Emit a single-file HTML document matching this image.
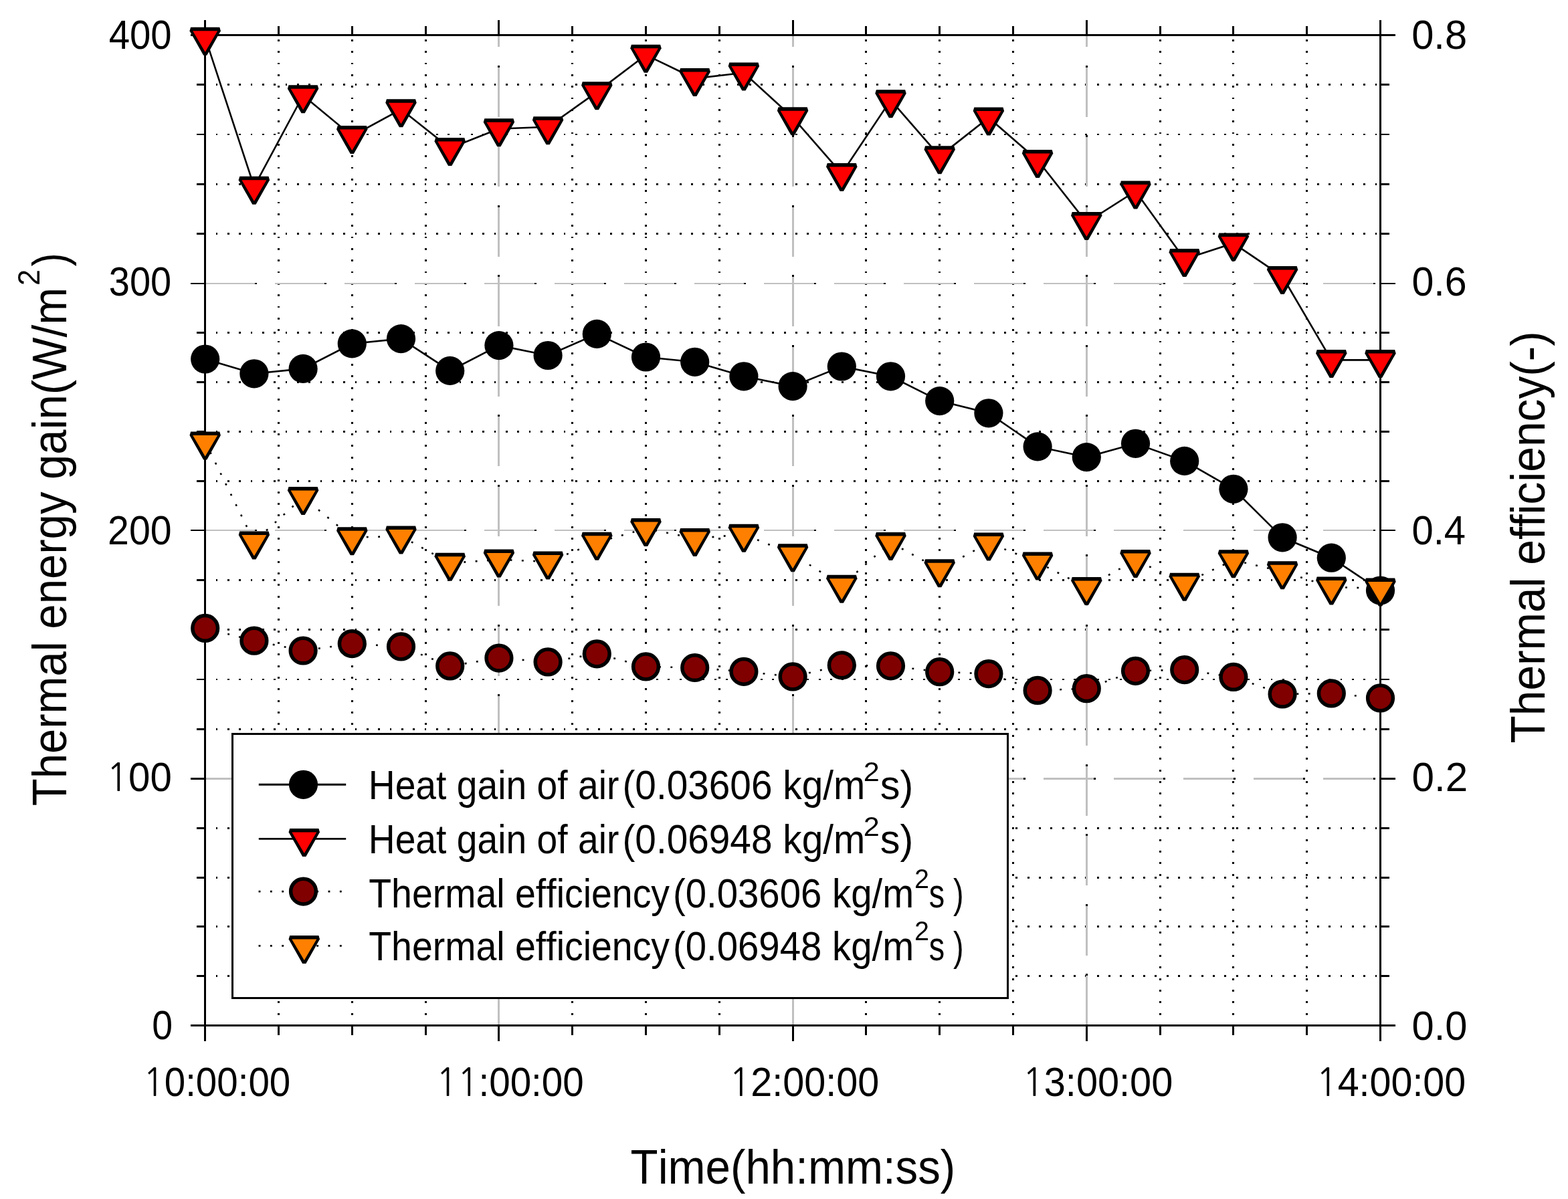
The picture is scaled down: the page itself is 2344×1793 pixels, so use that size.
<!DOCTYPE html>
<html><head><meta charset="utf-8"><title>Thermal energy gain and efficiency</title>
<style>html,body{margin:0;padding:0;background:#fff;overflow:hidden;width:2344px;height:1793px;}svg{display:block;}</style>
</head><body>
<svg width="2344" height="1793" viewBox="0 0 2344 1793">
<rect width="2344" height="1793" fill="#fff"/>
<g stroke="#000" stroke-width="2.86" stroke-dasharray="2.86 14.47" shape-rendering="crispEdges"><line x1="322.60" y1="1459.64" x2="2062.50" y2="1459.64"/><line x1="322.60" y1="1385.88" x2="2062.50" y2="1385.88"/><line x1="322.60" y1="1312.12" x2="2062.50" y2="1312.12"/><line x1="322.60" y1="1238.36" x2="2062.50" y2="1238.36"/><line x1="322.60" y1="1090.28" x2="2062.50" y2="1090.28"/><line x1="322.60" y1="1015.96" x2="2062.50" y2="1015.96"/><line x1="322.60" y1="941.64" x2="2062.50" y2="941.64"/><line x1="322.60" y1="867.32" x2="2062.50" y2="867.32"/><line x1="322.60" y1="719.20" x2="2062.50" y2="719.20"/><line x1="322.60" y1="645.40" x2="2062.50" y2="645.40"/><line x1="322.60" y1="571.60" x2="2062.50" y2="571.60"/><line x1="322.60" y1="497.80" x2="2062.50" y2="497.80"/><line x1="322.60" y1="349.68" x2="2062.50" y2="349.68"/><line x1="322.60" y1="275.36" x2="2062.50" y2="275.36"/><line x1="322.60" y1="201.04" x2="2062.50" y2="201.04"/><line x1="322.60" y1="126.72" x2="2062.50" y2="126.72"/><line x1="416.50" y1="1517.50" x2="416.50" y2="53.40"/><line x1="526.30" y1="1517.50" x2="526.30" y2="53.40"/><line x1="636.10" y1="1517.50" x2="636.10" y2="53.40"/><line x1="855.70" y1="1517.50" x2="855.70" y2="53.40"/><line x1="965.50" y1="1517.50" x2="965.50" y2="53.40"/><line x1="1075.30" y1="1517.50" x2="1075.30" y2="53.40"/><line x1="1294.90" y1="1517.50" x2="1294.90" y2="53.40"/><line x1="1404.70" y1="1517.50" x2="1404.70" y2="53.40"/><line x1="1514.50" y1="1517.50" x2="1514.50" y2="53.40"/><line x1="1734.10" y1="1517.50" x2="1734.10" y2="53.40"/><line x1="1843.90" y1="1517.50" x2="1843.90" y2="53.40"/><line x1="1953.70" y1="1517.50" x2="1953.70" y2="53.40"/></g>
<g stroke="#c0c0c0" stroke-width="2.86" stroke-dasharray="77.2 27.30" shape-rendering="crispEdges"><line x1="306.40" y1="1164.60" x2="2062.10" y2="1164.60"/><line x1="306.40" y1="793.00" x2="2062.10" y2="793.00"/><line x1="306.40" y1="424.00" x2="2062.10" y2="424.00"/><line x1="745.90" y1="1533.40" x2="745.90" y2="53.80"/><line x1="1185.10" y1="1533.40" x2="1185.10" y2="53.80"/><line x1="1624.30" y1="1533.40" x2="1624.30" y2="53.80"/></g>
<g stroke="#000" stroke-width="2.86" stroke-dasharray="2.86 101.64" shape-rendering="crispEdges"><line x1="380.74" y1="1164.60" x2="2062.10" y2="1164.60"/><line x1="380.74" y1="793.00" x2="2062.10" y2="793.00"/><line x1="380.74" y1="424.00" x2="2062.10" y2="424.00"/><line x1="745.90" y1="1459.06" x2="745.90" y2="53.80"/><line x1="1185.10" y1="1459.06" x2="1185.10" y2="53.80"/><line x1="1624.30" y1="1459.06" x2="1624.30" y2="53.80"/></g>
<g stroke="#000" stroke-width="2.86" shape-rendering="crispEdges"><line x1="306.7" y1="30.4" x2="306.7" y2="1557.4"/><line x1="2063.5" y1="30.4" x2="2063.5" y2="1557.4"/><line x1="284.7" y1="52.4" x2="2085.5" y2="52.4"/><line x1="284.7" y1="1533.4" x2="2085.5" y2="1533.4"/><line x1="293.7" y1="1459.64" x2="306.7" y2="1459.64"/><line x1="2063.5" y1="1459.64" x2="2076.5" y2="1459.64"/><line x1="293.7" y1="1385.88" x2="306.7" y2="1385.88"/><line x1="2063.5" y1="1385.88" x2="2076.5" y2="1385.88"/><line x1="293.7" y1="1312.12" x2="306.7" y2="1312.12"/><line x1="2063.5" y1="1312.12" x2="2076.5" y2="1312.12"/><line x1="293.7" y1="1238.36" x2="306.7" y2="1238.36"/><line x1="2063.5" y1="1238.36" x2="2076.5" y2="1238.36"/><line x1="284.7" y1="1164.60" x2="306.7" y2="1164.60"/><line x1="2063.5" y1="1164.60" x2="2085.5" y2="1164.60"/><line x1="293.7" y1="1090.28" x2="306.7" y2="1090.28"/><line x1="2063.5" y1="1090.28" x2="2076.5" y2="1090.28"/><line x1="293.7" y1="1015.96" x2="306.7" y2="1015.96"/><line x1="2063.5" y1="1015.96" x2="2076.5" y2="1015.96"/><line x1="293.7" y1="941.64" x2="306.7" y2="941.64"/><line x1="2063.5" y1="941.64" x2="2076.5" y2="941.64"/><line x1="293.7" y1="867.32" x2="306.7" y2="867.32"/><line x1="2063.5" y1="867.32" x2="2076.5" y2="867.32"/><line x1="284.7" y1="793.00" x2="306.7" y2="793.00"/><line x1="2063.5" y1="793.00" x2="2085.5" y2="793.00"/><line x1="293.7" y1="719.20" x2="306.7" y2="719.20"/><line x1="2063.5" y1="719.20" x2="2076.5" y2="719.20"/><line x1="293.7" y1="645.40" x2="306.7" y2="645.40"/><line x1="2063.5" y1="645.40" x2="2076.5" y2="645.40"/><line x1="293.7" y1="571.60" x2="306.7" y2="571.60"/><line x1="2063.5" y1="571.60" x2="2076.5" y2="571.60"/><line x1="293.7" y1="497.80" x2="306.7" y2="497.80"/><line x1="2063.5" y1="497.80" x2="2076.5" y2="497.80"/><line x1="284.7" y1="424.00" x2="306.7" y2="424.00"/><line x1="2063.5" y1="424.00" x2="2085.5" y2="424.00"/><line x1="293.7" y1="349.68" x2="306.7" y2="349.68"/><line x1="2063.5" y1="349.68" x2="2076.5" y2="349.68"/><line x1="293.7" y1="275.36" x2="306.7" y2="275.36"/><line x1="2063.5" y1="275.36" x2="2076.5" y2="275.36"/><line x1="293.7" y1="201.04" x2="306.7" y2="201.04"/><line x1="2063.5" y1="201.04" x2="2076.5" y2="201.04"/><line x1="293.7" y1="126.72" x2="306.7" y2="126.72"/><line x1="2063.5" y1="126.72" x2="2076.5" y2="126.72"/><line x1="416.50" y1="1533.4" x2="416.50" y2="1548.4"/><line x1="416.50" y1="39.4" x2="416.50" y2="52.4"/><line x1="526.30" y1="1533.4" x2="526.30" y2="1548.4"/><line x1="526.30" y1="39.4" x2="526.30" y2="52.4"/><line x1="636.10" y1="1533.4" x2="636.10" y2="1548.4"/><line x1="636.10" y1="39.4" x2="636.10" y2="52.4"/><line x1="745.90" y1="1533.4" x2="745.90" y2="1557.4"/><line x1="745.90" y1="30.4" x2="745.90" y2="52.4"/><line x1="855.70" y1="1533.4" x2="855.70" y2="1548.4"/><line x1="855.70" y1="39.4" x2="855.70" y2="52.4"/><line x1="965.50" y1="1533.4" x2="965.50" y2="1548.4"/><line x1="965.50" y1="39.4" x2="965.50" y2="52.4"/><line x1="1075.30" y1="1533.4" x2="1075.30" y2="1548.4"/><line x1="1075.30" y1="39.4" x2="1075.30" y2="52.4"/><line x1="1185.10" y1="1533.4" x2="1185.10" y2="1557.4"/><line x1="1185.10" y1="30.4" x2="1185.10" y2="52.4"/><line x1="1294.90" y1="1533.4" x2="1294.90" y2="1548.4"/><line x1="1294.90" y1="39.4" x2="1294.90" y2="52.4"/><line x1="1404.70" y1="1533.4" x2="1404.70" y2="1548.4"/><line x1="1404.70" y1="39.4" x2="1404.70" y2="52.4"/><line x1="1514.50" y1="1533.4" x2="1514.50" y2="1548.4"/><line x1="1514.50" y1="39.4" x2="1514.50" y2="52.4"/><line x1="1624.30" y1="1533.4" x2="1624.30" y2="1557.4"/><line x1="1624.30" y1="30.4" x2="1624.30" y2="52.4"/><line x1="1734.10" y1="1533.4" x2="1734.10" y2="1548.4"/><line x1="1734.10" y1="39.4" x2="1734.10" y2="52.4"/><line x1="1843.90" y1="1533.4" x2="1843.90" y2="1548.4"/><line x1="1843.90" y1="39.4" x2="1843.90" y2="52.4"/><line x1="1953.70" y1="1533.4" x2="1953.70" y2="1548.4"/><line x1="1953.70" y1="39.4" x2="1953.70" y2="52.4"/></g>
<polyline points="306.70,537.00 379.90,558.80 453.10,551.40 526.30,513.90 599.50,506.60 672.70,554.40 745.90,516.60 819.10,531.50 892.30,499.40 965.50,534.00 1038.70,541.30 1111.90,562.80 1185.10,577.60 1258.30,548.00 1331.50,562.80 1404.70,599.60 1477.90,617.80 1551.10,667.90 1624.30,683.60 1697.50,663.30 1770.70,689.40 1843.90,731.30 1917.10,803.80 1990.30,834.20 2063.50,883.00" fill="none" stroke="#000" stroke-width="2.6"/>
<circle cx="306.70" cy="537.00" r="21.6" fill="#000"/><circle cx="379.90" cy="558.80" r="21.6" fill="#000"/><circle cx="453.10" cy="551.40" r="21.6" fill="#000"/><circle cx="526.30" cy="513.90" r="21.6" fill="#000"/><circle cx="599.50" cy="506.60" r="21.6" fill="#000"/><circle cx="672.70" cy="554.40" r="21.6" fill="#000"/><circle cx="745.90" cy="516.60" r="21.6" fill="#000"/><circle cx="819.10" cy="531.50" r="21.6" fill="#000"/><circle cx="892.30" cy="499.40" r="21.6" fill="#000"/><circle cx="965.50" cy="534.00" r="21.6" fill="#000"/><circle cx="1038.70" cy="541.30" r="21.6" fill="#000"/><circle cx="1111.90" cy="562.80" r="21.6" fill="#000"/><circle cx="1185.10" cy="577.60" r="21.6" fill="#000"/><circle cx="1258.30" cy="548.00" r="21.6" fill="#000"/><circle cx="1331.50" cy="562.80" r="21.6" fill="#000"/><circle cx="1404.70" cy="599.60" r="21.6" fill="#000"/><circle cx="1477.90" cy="617.80" r="21.6" fill="#000"/><circle cx="1551.10" cy="667.90" r="21.6" fill="#000"/><circle cx="1624.30" cy="683.60" r="21.6" fill="#000"/><circle cx="1697.50" cy="663.30" r="21.6" fill="#000"/><circle cx="1770.70" cy="689.40" r="21.6" fill="#000"/><circle cx="1843.90" cy="731.30" r="21.6" fill="#000"/><circle cx="1917.10" cy="803.80" r="21.6" fill="#000"/><circle cx="1990.30" cy="834.20" r="21.6" fill="#000"/><circle cx="2063.50" cy="883.00" r="21.6" fill="#000"/>
<polyline points="306.70,56.10 379.90,279.10 453.10,142.70 526.30,203.40 599.50,163.60 672.70,221.40 745.90,192.60 819.10,189.70 892.30,137.60 965.50,82.20 1038.70,117.40 1111.90,108.80 1185.10,175.70 1258.30,259.50 1331.50,149.60 1404.70,233.60 1477.90,175.90 1551.10,239.50 1624.30,332.50 1697.50,286.00 1770.70,387.40 1843.90,363.80 1917.10,413.50 1990.30,538.40 2063.50,538.40" fill="none" stroke="#000" stroke-width="2.6"/>
<polygon points="285.10,40.70 328.30,40.70 329.90,46.20 309.30,82.70 304.10,82.70 283.50,46.20" fill="#000"/><polygon points="288.20,46.20 325.20,46.20 306.70,77.70" fill="#ff0000"/><polygon points="358.30,263.70 401.50,263.70 403.10,269.20 382.50,305.70 377.30,305.70 356.70,269.20" fill="#000"/><polygon points="361.40,269.20 398.40,269.20 379.90,300.70" fill="#ff0000"/><polygon points="431.50,127.30 474.70,127.30 476.30,132.80 455.70,169.30 450.50,169.30 429.90,132.80" fill="#000"/><polygon points="434.60,132.80 471.60,132.80 453.10,164.30" fill="#ff0000"/><polygon points="504.70,188.00 547.90,188.00 549.50,193.50 528.90,230.00 523.70,230.00 503.10,193.50" fill="#000"/><polygon points="507.80,193.50 544.80,193.50 526.30,225.00" fill="#ff0000"/><polygon points="577.90,148.20 621.10,148.20 622.70,153.70 602.10,190.20 596.90,190.20 576.30,153.70" fill="#000"/><polygon points="581.00,153.70 618.00,153.70 599.50,185.20" fill="#ff0000"/><polygon points="651.10,206.00 694.30,206.00 695.90,211.50 675.30,248.00 670.10,248.00 649.50,211.50" fill="#000"/><polygon points="654.20,211.50 691.20,211.50 672.70,243.00" fill="#ff0000"/><polygon points="724.30,177.20 767.50,177.20 769.10,182.70 748.50,219.20 743.30,219.20 722.70,182.70" fill="#000"/><polygon points="727.40,182.70 764.40,182.70 745.90,214.20" fill="#ff0000"/><polygon points="797.50,174.30 840.70,174.30 842.30,179.80 821.70,216.30 816.50,216.30 795.90,179.80" fill="#000"/><polygon points="800.60,179.80 837.60,179.80 819.10,211.30" fill="#ff0000"/><polygon points="870.70,122.20 913.90,122.20 915.50,127.70 894.90,164.20 889.70,164.20 869.10,127.70" fill="#000"/><polygon points="873.80,127.70 910.80,127.70 892.30,159.20" fill="#ff0000"/><polygon points="943.90,66.80 987.10,66.80 988.70,72.30 968.10,108.80 962.90,108.80 942.30,72.30" fill="#000"/><polygon points="947.00,72.30 984.00,72.30 965.50,103.80" fill="#ff0000"/><polygon points="1017.10,102.00 1060.30,102.00 1061.90,107.50 1041.30,144.00 1036.10,144.00 1015.50,107.50" fill="#000"/><polygon points="1020.20,107.50 1057.20,107.50 1038.70,139.00" fill="#ff0000"/><polygon points="1090.30,93.40 1133.50,93.40 1135.10,98.90 1114.50,135.40 1109.30,135.40 1088.70,98.90" fill="#000"/><polygon points="1093.40,98.90 1130.40,98.90 1111.90,130.40" fill="#ff0000"/><polygon points="1163.50,160.30 1206.70,160.30 1208.30,165.80 1187.70,202.30 1182.50,202.30 1161.90,165.80" fill="#000"/><polygon points="1166.60,165.80 1203.60,165.80 1185.10,197.30" fill="#ff0000"/><polygon points="1236.70,244.10 1279.90,244.10 1281.50,249.60 1260.90,286.10 1255.70,286.10 1235.10,249.60" fill="#000"/><polygon points="1239.80,249.60 1276.80,249.60 1258.30,281.10" fill="#ff0000"/><polygon points="1309.90,134.20 1353.10,134.20 1354.70,139.70 1334.10,176.20 1328.90,176.20 1308.30,139.70" fill="#000"/><polygon points="1313.00,139.70 1350.00,139.70 1331.50,171.20" fill="#ff0000"/><polygon points="1383.10,218.20 1426.30,218.20 1427.90,223.70 1407.30,260.20 1402.10,260.20 1381.50,223.70" fill="#000"/><polygon points="1386.20,223.70 1423.20,223.70 1404.70,255.20" fill="#ff0000"/><polygon points="1456.30,160.50 1499.50,160.50 1501.10,166.00 1480.50,202.50 1475.30,202.50 1454.70,166.00" fill="#000"/><polygon points="1459.40,166.00 1496.40,166.00 1477.90,197.50" fill="#ff0000"/><polygon points="1529.50,224.10 1572.70,224.10 1574.30,229.60 1553.70,266.10 1548.50,266.10 1527.90,229.60" fill="#000"/><polygon points="1532.60,229.60 1569.60,229.60 1551.10,261.10" fill="#ff0000"/><polygon points="1602.70,317.10 1645.90,317.10 1647.50,322.60 1626.90,359.10 1621.70,359.10 1601.10,322.60" fill="#000"/><polygon points="1605.80,322.60 1642.80,322.60 1624.30,354.10" fill="#ff0000"/><polygon points="1675.90,270.60 1719.10,270.60 1720.70,276.10 1700.10,312.60 1694.90,312.60 1674.30,276.10" fill="#000"/><polygon points="1679.00,276.10 1716.00,276.10 1697.50,307.60" fill="#ff0000"/><polygon points="1749.10,372.00 1792.30,372.00 1793.90,377.50 1773.30,414.00 1768.10,414.00 1747.50,377.50" fill="#000"/><polygon points="1752.20,377.50 1789.20,377.50 1770.70,409.00" fill="#ff0000"/><polygon points="1822.30,348.40 1865.50,348.40 1867.10,353.90 1846.50,390.40 1841.30,390.40 1820.70,353.90" fill="#000"/><polygon points="1825.40,353.90 1862.40,353.90 1843.90,385.40" fill="#ff0000"/><polygon points="1895.50,398.10 1938.70,398.10 1940.30,403.60 1919.70,440.10 1914.50,440.10 1893.90,403.60" fill="#000"/><polygon points="1898.60,403.60 1935.60,403.60 1917.10,435.10" fill="#ff0000"/><polygon points="1968.70,523.00 2011.90,523.00 2013.50,528.50 1992.90,565.00 1987.70,565.00 1967.10,528.50" fill="#000"/><polygon points="1971.80,528.50 2008.80,528.50 1990.30,560.00" fill="#ff0000"/><polygon points="2041.90,523.00 2085.10,523.00 2086.70,528.50 2066.10,565.00 2060.90,565.00 2040.30,528.50" fill="#000"/><polygon points="2045.00,528.50 2082.00,528.50 2063.50,560.00" fill="#ff0000"/>
<polyline points="306.70,939.40 379.90,958.20 453.10,973.00 526.30,962.60 599.50,966.90 672.70,995.90 745.90,984.10 819.10,989.90 892.30,977.80 965.50,996.90 1038.70,998.50 1111.90,1004.30 1185.10,1011.90 1258.30,994.80 1331.50,995.80 1404.70,1004.70 1477.90,1007.60 1551.10,1032.40 1624.30,1029.70 1697.50,1003.30 1770.70,1001.60 1843.90,1012.40 1917.10,1038.00 1990.30,1036.90 2063.50,1043.90" fill="none" stroke="#000" stroke-width="2.6" stroke-dasharray="2.86 14.47"/>
<circle cx="306.70" cy="939.40" r="18.85" fill="#800000" stroke="#000" stroke-width="5.5"/><circle cx="379.90" cy="958.20" r="18.85" fill="#800000" stroke="#000" stroke-width="5.5"/><circle cx="453.10" cy="973.00" r="18.85" fill="#800000" stroke="#000" stroke-width="5.5"/><circle cx="526.30" cy="962.60" r="18.85" fill="#800000" stroke="#000" stroke-width="5.5"/><circle cx="599.50" cy="966.90" r="18.85" fill="#800000" stroke="#000" stroke-width="5.5"/><circle cx="672.70" cy="995.90" r="18.85" fill="#800000" stroke="#000" stroke-width="5.5"/><circle cx="745.90" cy="984.10" r="18.85" fill="#800000" stroke="#000" stroke-width="5.5"/><circle cx="819.10" cy="989.90" r="18.85" fill="#800000" stroke="#000" stroke-width="5.5"/><circle cx="892.30" cy="977.80" r="18.85" fill="#800000" stroke="#000" stroke-width="5.5"/><circle cx="965.50" cy="996.90" r="18.85" fill="#800000" stroke="#000" stroke-width="5.5"/><circle cx="1038.70" cy="998.50" r="18.85" fill="#800000" stroke="#000" stroke-width="5.5"/><circle cx="1111.90" cy="1004.30" r="18.85" fill="#800000" stroke="#000" stroke-width="5.5"/><circle cx="1185.10" cy="1011.90" r="18.85" fill="#800000" stroke="#000" stroke-width="5.5"/><circle cx="1258.30" cy="994.80" r="18.85" fill="#800000" stroke="#000" stroke-width="5.5"/><circle cx="1331.50" cy="995.80" r="18.85" fill="#800000" stroke="#000" stroke-width="5.5"/><circle cx="1404.70" cy="1004.70" r="18.85" fill="#800000" stroke="#000" stroke-width="5.5"/><circle cx="1477.90" cy="1007.60" r="18.85" fill="#800000" stroke="#000" stroke-width="5.5"/><circle cx="1551.10" cy="1032.40" r="18.85" fill="#800000" stroke="#000" stroke-width="5.5"/><circle cx="1624.30" cy="1029.70" r="18.85" fill="#800000" stroke="#000" stroke-width="5.5"/><circle cx="1697.50" cy="1003.30" r="18.85" fill="#800000" stroke="#000" stroke-width="5.5"/><circle cx="1770.70" cy="1001.60" r="18.85" fill="#800000" stroke="#000" stroke-width="5.5"/><circle cx="1843.90" cy="1012.40" r="18.85" fill="#800000" stroke="#000" stroke-width="5.5"/><circle cx="1917.10" cy="1038.00" r="18.85" fill="#800000" stroke="#000" stroke-width="5.5"/><circle cx="1990.30" cy="1036.90" r="18.85" fill="#800000" stroke="#000" stroke-width="5.5"/><circle cx="2063.50" cy="1043.90" r="18.85" fill="#800000" stroke="#000" stroke-width="5.5"/>
<polyline points="306.70,660.80 379.90,809.90 453.10,743.50 526.30,803.70 599.50,801.80 672.70,842.10 745.90,836.80 819.10,839.90 892.30,811.20 965.50,790.30 1038.70,805.30 1111.90,799.10 1185.10,828.70 1258.30,875.20 1331.50,811.30 1404.70,851.60 1477.90,811.80 1551.10,840.80 1624.30,878.50 1697.50,837.40 1770.70,872.20 1843.90,837.60 1917.10,854.70 1990.30,877.90 2063.50,879.80" fill="none" stroke="#000" stroke-width="2.6" stroke-dasharray="2.86 14.47"/>
<polygon points="285.10,645.40 328.30,645.40 329.90,650.90 309.30,687.40 304.10,687.40 283.50,650.90" fill="#000"/><polygon points="288.20,650.90 325.20,650.90 306.70,682.40" fill="#ff8000"/><polygon points="358.30,794.50 401.50,794.50 403.10,800.00 382.50,836.50 377.30,836.50 356.70,800.00" fill="#000"/><polygon points="361.40,800.00 398.40,800.00 379.90,831.50" fill="#ff8000"/><polygon points="431.50,728.10 474.70,728.10 476.30,733.60 455.70,770.10 450.50,770.10 429.90,733.60" fill="#000"/><polygon points="434.60,733.60 471.60,733.60 453.10,765.10" fill="#ff8000"/><polygon points="504.70,788.30 547.90,788.30 549.50,793.80 528.90,830.30 523.70,830.30 503.10,793.80" fill="#000"/><polygon points="507.80,793.80 544.80,793.80 526.30,825.30" fill="#ff8000"/><polygon points="577.90,786.40 621.10,786.40 622.70,791.90 602.10,828.40 596.90,828.40 576.30,791.90" fill="#000"/><polygon points="581.00,791.90 618.00,791.90 599.50,823.40" fill="#ff8000"/><polygon points="651.10,826.70 694.30,826.70 695.90,832.20 675.30,868.70 670.10,868.70 649.50,832.20" fill="#000"/><polygon points="654.20,832.20 691.20,832.20 672.70,863.70" fill="#ff8000"/><polygon points="724.30,821.40 767.50,821.40 769.10,826.90 748.50,863.40 743.30,863.40 722.70,826.90" fill="#000"/><polygon points="727.40,826.90 764.40,826.90 745.90,858.40" fill="#ff8000"/><polygon points="797.50,824.50 840.70,824.50 842.30,830.00 821.70,866.50 816.50,866.50 795.90,830.00" fill="#000"/><polygon points="800.60,830.00 837.60,830.00 819.10,861.50" fill="#ff8000"/><polygon points="870.70,795.80 913.90,795.80 915.50,801.30 894.90,837.80 889.70,837.80 869.10,801.30" fill="#000"/><polygon points="873.80,801.30 910.80,801.30 892.30,832.80" fill="#ff8000"/><polygon points="943.90,774.90 987.10,774.90 988.70,780.40 968.10,816.90 962.90,816.90 942.30,780.40" fill="#000"/><polygon points="947.00,780.40 984.00,780.40 965.50,811.90" fill="#ff8000"/><polygon points="1017.10,789.90 1060.30,789.90 1061.90,795.40 1041.30,831.90 1036.10,831.90 1015.50,795.40" fill="#000"/><polygon points="1020.20,795.40 1057.20,795.40 1038.70,826.90" fill="#ff8000"/><polygon points="1090.30,783.70 1133.50,783.70 1135.10,789.20 1114.50,825.70 1109.30,825.70 1088.70,789.20" fill="#000"/><polygon points="1093.40,789.20 1130.40,789.20 1111.90,820.70" fill="#ff8000"/><polygon points="1163.50,813.30 1206.70,813.30 1208.30,818.80 1187.70,855.30 1182.50,855.30 1161.90,818.80" fill="#000"/><polygon points="1166.60,818.80 1203.60,818.80 1185.10,850.30" fill="#ff8000"/><polygon points="1236.70,859.80 1279.90,859.80 1281.50,865.30 1260.90,901.80 1255.70,901.80 1235.10,865.30" fill="#000"/><polygon points="1239.80,865.30 1276.80,865.30 1258.30,896.80" fill="#ff8000"/><polygon points="1309.90,795.90 1353.10,795.90 1354.70,801.40 1334.10,837.90 1328.90,837.90 1308.30,801.40" fill="#000"/><polygon points="1313.00,801.40 1350.00,801.40 1331.50,832.90" fill="#ff8000"/><polygon points="1383.10,836.20 1426.30,836.20 1427.90,841.70 1407.30,878.20 1402.10,878.20 1381.50,841.70" fill="#000"/><polygon points="1386.20,841.70 1423.20,841.70 1404.70,873.20" fill="#ff8000"/><polygon points="1456.30,796.40 1499.50,796.40 1501.10,801.90 1480.50,838.40 1475.30,838.40 1454.70,801.90" fill="#000"/><polygon points="1459.40,801.90 1496.40,801.90 1477.90,833.40" fill="#ff8000"/><polygon points="1529.50,825.40 1572.70,825.40 1574.30,830.90 1553.70,867.40 1548.50,867.40 1527.90,830.90" fill="#000"/><polygon points="1532.60,830.90 1569.60,830.90 1551.10,862.40" fill="#ff8000"/><polygon points="1602.70,863.10 1645.90,863.10 1647.50,868.60 1626.90,905.10 1621.70,905.10 1601.10,868.60" fill="#000"/><polygon points="1605.80,868.60 1642.80,868.60 1624.30,900.10" fill="#ff8000"/><polygon points="1675.90,822.00 1719.10,822.00 1720.70,827.50 1700.10,864.00 1694.90,864.00 1674.30,827.50" fill="#000"/><polygon points="1679.00,827.50 1716.00,827.50 1697.50,859.00" fill="#ff8000"/><polygon points="1749.10,856.80 1792.30,856.80 1793.90,862.30 1773.30,898.80 1768.10,898.80 1747.50,862.30" fill="#000"/><polygon points="1752.20,862.30 1789.20,862.30 1770.70,893.80" fill="#ff8000"/><polygon points="1822.30,822.20 1865.50,822.20 1867.10,827.70 1846.50,864.20 1841.30,864.20 1820.70,827.70" fill="#000"/><polygon points="1825.40,827.70 1862.40,827.70 1843.90,859.20" fill="#ff8000"/><polygon points="1895.50,839.30 1938.70,839.30 1940.30,844.80 1919.70,881.30 1914.50,881.30 1893.90,844.80" fill="#000"/><polygon points="1898.60,844.80 1935.60,844.80 1917.10,876.30" fill="#ff8000"/><polygon points="1968.70,862.50 2011.90,862.50 2013.50,868.00 1992.90,904.50 1987.70,904.50 1967.10,868.00" fill="#000"/><polygon points="1971.80,868.00 2008.80,868.00 1990.30,899.50" fill="#ff8000"/><polygon points="2041.90,864.40 2085.10,864.40 2086.70,869.90 2066.10,906.40 2060.90,906.40 2040.30,869.90" fill="#000"/><polygon points="2045.00,869.90 2082.00,869.90 2063.50,901.40" fill="#ff8000"/>
<rect x="347.5" y="1097.6" width="1158.80" height="394.80" fill="#fff" stroke="#000" stroke-width="2.86" shape-rendering="crispEdges"/>
<line x1="386.8" y1="1173.3" x2="517.2" y2="1173.3" stroke="#000" stroke-width="2.86"/>
<circle cx="453.50" cy="1173.30" r="21.6" fill="#000"/>
<line x1="386.8" y1="1254.4" x2="517.2" y2="1254.4" stroke="#000" stroke-width="2.86"/>
<polygon points="433.20,1239.00 476.40,1239.00 478.00,1244.50 457.40,1281.00 452.20,1281.00 431.60,1244.50" fill="#000"/><polygon points="436.30,1244.50 473.30,1244.50 454.80,1276.00" fill="#ff0000"/>
<line x1="386.57" y1="1333.1" x2="517.2" y2="1333.1" stroke="#000" stroke-width="2.86" stroke-dasharray="2.86 14.47"/>
<circle cx="453.50" cy="1333.10" r="18.85" fill="#800000" stroke="#000" stroke-width="5.5"/>
<line x1="386.57" y1="1414.4" x2="517.2" y2="1414.4" stroke="#000" stroke-width="2.86" stroke-dasharray="2.86 14.47"/>
<polygon points="433.20,1399.00 476.40,1399.00 478.00,1404.50 457.40,1441.00 452.20,1441.00 431.60,1404.50" fill="#000"/><polygon points="436.30,1404.50 473.30,1404.50 454.80,1436.00" fill="#ff8000"/>
<g font-family="'Liberation Sans', Arial, sans-serif" fill="#000" style="font-kerning:none;font-variant-ligatures:none"><text x="162.71" y="73.30" font-size="62" textLength="93.99" lengthAdjust="spacingAndGlyphs">400</text><text x="162.87" y="442.20" font-size="62" textLength="93.31" lengthAdjust="spacingAndGlyphs">300</text><text x="161.12" y="814.10" font-size="62" textLength="95.62" lengthAdjust="spacingAndGlyphs">200</text><text x="159.34" y="1183.00" font-size="62" textLength="97.43" lengthAdjust="spacingAndGlyphs"><tspan font-family="NanumGothic, 'Liberation Sans', sans-serif" font-size="57.41">1</tspan>00</text><text x="227.33" y="1554.10" font-size="62" textLength="30.83" lengthAdjust="spacingAndGlyphs">0</text><text x="2110.17" y="73.00" font-size="62" textLength="82.92" lengthAdjust="spacingAndGlyphs">0.8</text><text x="2110.39" y="441.80" font-size="62" textLength="82.21" lengthAdjust="spacingAndGlyphs">0.6</text><text x="2110.44" y="814.40" font-size="62" textLength="80.56" lengthAdjust="spacingAndGlyphs">0.4</text><text x="2110.55" y="1182.70" font-size="62" textLength="83.79" lengthAdjust="spacingAndGlyphs">0.2</text><text x="2110.57" y="1554.50" font-size="62" textLength="82.96" lengthAdjust="spacingAndGlyphs">0.0</text><text x="214.07" y="1639.10" font-size="62" textLength="220.13" lengthAdjust="spacingAndGlyphs"><tspan font-family="NanumGothic, 'Liberation Sans', sans-serif" font-size="57.41">1</tspan>0:00:00</text><text x="652.07" y="1639.10" font-size="62" textLength="220.64" lengthAdjust="spacingAndGlyphs"><tspan font-family="NanumGothic, 'Liberation Sans', sans-serif" font-size="57.41">1</tspan><tspan font-family="NanumGothic, 'Liberation Sans', sans-serif" font-size="57.41">1</tspan>:00:00</text><text x="1089.93" y="1639.10" font-size="62" textLength="224.32" lengthAdjust="spacingAndGlyphs"><tspan font-family="NanumGothic, 'Liberation Sans', sans-serif" font-size="57.41">1</tspan>2:00:00</text><text x="1528.41" y="1639.10" font-size="62" textLength="224.84" lengthAdjust="spacingAndGlyphs"><tspan font-family="NanumGothic, 'Liberation Sans', sans-serif" font-size="57.41">1</tspan>3:00:00</text><text x="1967.45" y="1639.10" font-size="62" textLength="223.79" lengthAdjust="spacingAndGlyphs"><tspan font-family="NanumGothic, 'Liberation Sans', sans-serif" font-size="57.41">1</tspan>4:00:00</text><text x="942.59" y="1769.70" font-size="71.5" textLength="485.68" lengthAdjust="spacingAndGlyphs">Time(hh:mm:ss)</text><text x="-1205.31" y="99.00" font-size="71.5" textLength="775.33" lengthAdjust="spacingAndGlyphs" transform="rotate(-90)">Thermal energy gain(W/m</text><text x="-427.07" y="58.70" font-size="46" textLength="24.05" lengthAdjust="spacingAndGlyphs" transform="rotate(-90)">2</text><text x="-398.35" y="99.00" font-size="71.5" textLength="20.10" lengthAdjust="spacingAndGlyphs" transform="rotate(-90)">)</text><text x="-1111.52" y="2308.50" font-size="71.5" textLength="616.31" lengthAdjust="spacingAndGlyphs" transform="rotate(-90)">Thermal efficiency(-)</text><text x="550.77" y="1195.00" font-size="62" textLength="374.55" lengthAdjust="spacingAndGlyphs">Heat gain of air</text><text x="930.48" y="1195.00" font-size="62" textLength="362.76" lengthAdjust="spacingAndGlyphs">(0.03606 kg/m</text><text x="1290.83" y="1168.30" font-size="40" textLength="24.05" lengthAdjust="spacingAndGlyphs">2</text><text x="1315.75" y="1195.00" font-size="62" textLength="49.43" lengthAdjust="spacingAndGlyphs">s)</text><text x="550.77" y="1276.30" font-size="62" textLength="374.55" lengthAdjust="spacingAndGlyphs">Heat gain of air</text><text x="930.48" y="1276.30" font-size="62" textLength="362.76" lengthAdjust="spacingAndGlyphs">(0.06948 kg/m</text><text x="1290.83" y="1249.60" font-size="40" textLength="24.05" lengthAdjust="spacingAndGlyphs">2</text><text x="1315.75" y="1276.30" font-size="62" textLength="49.43" lengthAdjust="spacingAndGlyphs">s)</text><text x="551.25" y="1357.40" font-size="62" textLength="449.85" lengthAdjust="spacingAndGlyphs">Thermal efficiency</text><text x="1005.91" y="1357.40" font-size="62" textLength="360.21" lengthAdjust="spacingAndGlyphs">(0.03606 kg/m</text><text x="1367.11" y="1327.70" font-size="40" textLength="21.97" lengthAdjust="spacingAndGlyphs">2</text><text x="1388.70" y="1357.40" font-size="62" textLength="52.01" lengthAdjust="spacingAndGlyphs">s )</text><text x="551.25" y="1435.60" font-size="62" textLength="449.85" lengthAdjust="spacingAndGlyphs">Thermal efficiency</text><text x="1005.91" y="1435.60" font-size="62" textLength="360.21" lengthAdjust="spacingAndGlyphs">(0.06948 kg/m</text><text x="1367.11" y="1406.30" font-size="40" textLength="21.97" lengthAdjust="spacingAndGlyphs">2</text><text x="1388.70" y="1435.60" font-size="62" textLength="52.01" lengthAdjust="spacingAndGlyphs">s )</text></g>
</svg>
</body></html>
